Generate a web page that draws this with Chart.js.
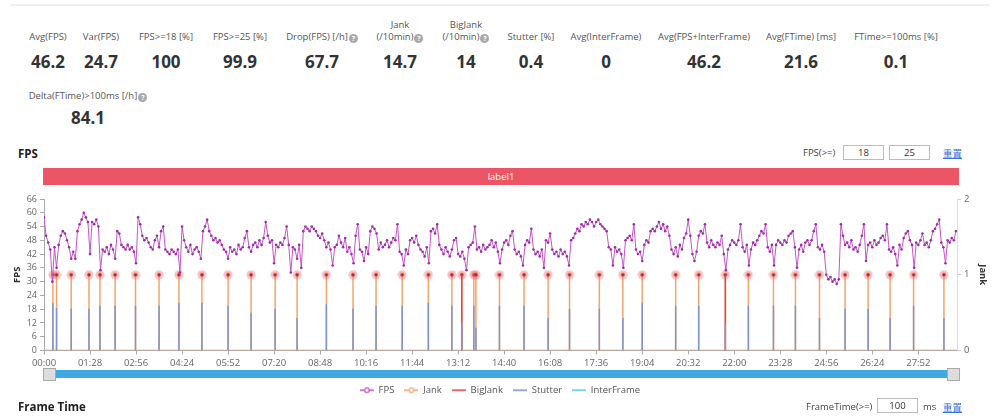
<!DOCTYPE html>
<html>
<head>
<meta charset="utf-8">
<script src="https://cdn.jsdelivr.net/npm/chart.js@4.4.1/dist/chart.umd.min.js"></script>
<style>
  body { margin: 0; width: 1000px; height: 419px; background: #fff; overflow: hidden;
         font-family: "Open Sans", "Noto Sans CJK SC", sans-serif; position: relative; }
  .topline { position: absolute; left: 10px; top: 4px; width: 980px; height: 2px; background: #f0f0f0; }
  .stat-label { position: absolute; width: 140px; text-align: center; font-size: 9.5px; color: #555;
                line-height: 12px; white-space: pre-line; }
  .stat-value { position: absolute; width: 140px; text-align: center; font-size: 17px; font-weight: bold;
                color: #333; line-height: 20px; }
  .help { display: inline-block; width: 9px; height: 9px; border-radius: 50%; background: #a8a8a8; color: #fff;
          font-size: 7px; line-height: 9px; text-align: center; font-weight: bold; vertical-align: -1px; margin-left: 1px; }
  .title { position: absolute; left: 18px; font-size: 11.5px; font-weight: bold; color: #222; }
  .band { position: absolute; left: 43px; top: 168px; width: 916px; height: 17px; background: #ec5565;
          color: #fff; font-size: 9.5px; text-align: center; line-height: 17px; }
  .ctl { position: absolute; font-size: 9.5px; color: #444; }
  .box { position: absolute; height: 13px; border: 1px solid #bbb; font-size: 9.5px; color: #333;
         text-align: center; line-height: 13px; }
  .link { position: absolute; font-size: 9.5px; color: #3b6fd8; text-decoration: underline; }
  #chartWrap { position: absolute; left: 0; top: 190px; width: 1000px; height: 215px; }
  .slider { position: absolute; left: 44px; top: 370px; width: 913px; height: 8px; background: #3fa9e6; }
  .handle { position: absolute; top: 368px; width: 11px; height: 11px; background: #ddd; border: 1px solid #aaa; }
</style>
</head>
<body>
<div class="topline"></div>
<div id="stats"></div>

<div class="title" style="top:146px">FPS</div>
<div class="ctl" style="left:803px;top:146px">FPS(&gt;=)</div>
<div class="box" style="left:843px;top:145px;width:39px">18</div>
<div class="box" style="left:889px;top:145px;width:39px">25</div>
<div class="link" style="left:943px;top:146px">重置</div>
<div class="band">label1</div>

<div id="chartWrap"><canvas id="fpsChart"></canvas></div>
<div class="slider"></div>
<div class="handle" style="left:43px"></div>
<div class="handle" style="left:947px"></div>

<div class="title" style="top:399px">Frame Time</div>
<div class="ctl" style="left:806px;top:400px">FrameTime(&gt;=)</div>
<div class="box" style="left:877px;top:398px;width:39px">100</div>
<div class="ctl" style="left:923px;top:400px">ms</div>
<div class="link" style="left:943px;top:400px">重置</div>

<script>
// summary numbers
const statLabels = ['Avg(FPS)', 'Var(FPS)', 'FPS>=18 [%]', 'FPS>=25 [%]', 'Drop(FPS) [/h]', 'Jank\n(/10min)',
  'BigJank\n(/10min)', 'Stutter [%]', 'Avg(InterFrame)', 'Avg(FPS+InterFrame)', 'Avg(FTime) [ms]',
  'FTime>=100ms [%]', 'Delta(FTime)>100ms [/h]'];
const statValues = ['46.2', '24.7', '100', '99.9', '67.7', '14.7', '14', '0.4', '0', '46.2', '21.6', '0.1', '84.1'];
const statHelp = [false, false, false, false, true, true, true, false, false, false, false, false, true];

// FPS sampled every 4 s (one row = 80 s)
const FPS_STEP = 4;
const fpsValues = [
  58, 50, 47, 44, 30, 45, 36, 46, 50, 52, 51, 48, 45, 40, 43, 40, 52, 55, 57, 60,
  58, 56, 42, 56, 55, 57, 54, 35, 44, 43, 45, 42, 46, 44, 40, 52, 51, 46, 45, 44,
  46, 44, 45, 43, 38, 58, 55, 50, 48, 49, 47, 45, 44, 48, 50, 45, 52, 54, 44, 43,
  42, 44, 43, 42, 44, 34, 54, 48, 45, 43, 46, 42, 44, 45, 43, 40, 52, 54, 57, 52,
  50, 48, 49, 47, 48, 46, 44, 43, 40, 45, 43, 44, 42, 46, 44, 45, 49, 52, 45, 43,
  46, 47, 45, 48, 46, 49, 56, 50, 47, 48, 38, 46, 45, 47, 46, 49, 54, 46, 34, 45,
  44, 40, 46, 36, 52, 54, 53, 52, 54, 53, 52, 50, 49, 51, 48, 45, 47, 44, 37, 45,
  46, 50, 47, 45, 49, 43, 45, 42, 38, 50, 55, 44, 43, 39, 45, 42, 52, 54, 53, 51,
  44, 47, 45, 46, 48, 45, 47, 49, 48, 55, 43, 42, 37, 44, 42, 48, 49, 47, 50, 46,
  44, 43, 41, 45, 38, 52, 53, 51, 55, 46, 44, 42, 45, 43, 41, 44, 48, 49, 42, 41,
  43, 40, 35, 45, 46, 47, 54, 44, 45, 43, 46, 44, 45, 46, 48, 45, 47, 43, 38, 44,
  47, 48, 46, 50, 52, 44, 42, 43, 41, 37, 46, 48, 47, 53, 44, 42, 43, 41, 44, 36,
  48, 47, 51, 44, 42, 43, 41, 44, 42, 43, 41, 37, 48, 49, 51, 53, 52, 55, 54, 56,
  55, 57, 56, 54, 56, 57, 55, 54, 53, 52, 45, 44, 37, 45, 43, 44, 42, 36, 48, 49,
  50, 48, 55, 44, 42, 43, 39, 46, 48, 47, 52, 53, 52, 54, 56, 53, 55, 52, 54, 50,
  44, 42, 45, 41, 46, 44, 49, 51, 57, 50, 42, 39, 43, 50, 52, 51, 55, 47, 45, 48,
  46, 45, 47, 46, 50, 42, 35, 44, 46, 48, 47, 46, 48, 55, 45, 43, 46, 37, 44, 47,
  46, 48, 50, 52, 51, 55, 45, 43, 46, 37, 46, 48, 47, 46, 48, 47, 50, 51, 52, 45,
  36, 44, 46, 43, 47, 48, 46, 48, 52, 55, 45, 44, 46, 43, 33, 31, 32, 30, 31, 29,
  31, 55, 50, 46, 47, 45, 48, 44, 45, 43, 46, 50, 55, 39, 46, 47, 45, 48, 46, 47,
  49, 50, 48, 55, 44, 43, 45, 42, 37, 46, 44, 49, 51, 52, 48, 46, 36, 47, 46, 48,
  51, 46, 47, 45, 48, 52, 53, 55, 57, 47, 45, 38, 48, 47, 49, 48, 52
];

// jank events (seconds) and stutter height at each one
const jankTimes = [17, 24, 52, 86, 107, 136, 175, 220, 258, 302, 352, 396, 442, 484, 540, 591, 635, 685,
  735, 780, 799, 822, 826, 871, 918, 964, 1005, 1062, 1107, 1144, 1208, 1252, 1303, 1347, 1395, 1437,
  1483, 1532, 1576, 1618, 1663, 1721];
const stutterValues = [0.63, 0.56, 0.55, 0.55, 0.59, 0.59, 0.59, 0.59, 0.63, 0.63, 0.59, 0.5, 0.55, 0.43,
  0.61, 0.55, 0.59, 0.59, 0.63, 0.59, 0.39, 0.59, 0.3, 0.59, 0.59, 0.43, 0.55, 0.55, 0.43, 0.63, 0.59,
  0.59, 0.35, 0.59, 0.59, 0.59, 0.43, 0.55, 0.55, 0.43, 0.59, 0.43];
const bigJankTimes = [799, 1303];

const timeTicks = ['00:00', '01:28', '02:56', '04:24', '05:52', '07:20', '08:48', '10:16', '11:44', '13:12',
  '14:40', '16:08', '17:36', '19:04', '20:32', '22:00', '23:28', '24:56', '26:24', '27:52'];
const TICK_STEP = 88;
const END_TIME = 1746;

// summary blocks
const statCenters = [48, 101, 166, 240, 322, 400, 466, 531, 606, 704, 801, 896, 88];
const statsDiv = document.getElementById('stats');
statLabels.forEach((txt, i) => {
  const second = i === 12;
  const twoLine = txt.includes('\n');
  const lab = document.createElement('div');
  lab.className = 'stat-label';
  lab.style.left = (statCenters[i] - 70) + 'px';
  lab.style.top = (second ? 90 : (twoLine ? 19 : 31)) + 'px';
  lab.textContent = txt;
  if (statHelp[i]) {
    const h = document.createElement('span');
    h.className = 'help';
    h.textContent = '?';
    lab.appendChild(h);
  }
  statsDiv.appendChild(lab);
  const val = document.createElement('div');
  val.className = 'stat-value';
  val.style.left = (statCenters[i] - 70) + 'px';
  val.style.top = (second ? 108 : 52) + 'px';
  val.textContent = statValues[i];
  statsDiv.appendChild(val);
});

function spikes(times, heights) {
  const pts = [{ x: 0, y: 0 }];
  times.forEach((t, i) => {
    pts.push({ x: t, y: 0 }, { x: t, y: heights ? heights[i] : 1 }, { x: t, y: 0 });
  });
  pts.push({ x: END_TIME, y: 0 });
  return pts;
}

function legendIcon(color, dot) {
  const c = document.createElement('canvas');
  c.width = 14; c.height = 8;
  const g = c.getContext('2d');
  g.strokeStyle = color; g.lineWidth = 1.6;
  g.beginPath(); g.moveTo(0, 4); g.lineTo(14, 4); g.stroke();
  if (dot) {
    g.fillStyle = '#fff'; g.lineWidth = 1.2;
    g.beginPath(); g.arc(7, 4, 2.3, 0, Math.PI * 2); g.fill(); g.stroke();
  }
  return c;
}

function jankMarker() {
  const c = document.createElement('canvas');
  c.width = 10; c.height = 10;
  const g = c.getContext('2d');
  g.fillStyle = 'rgba(240,120,120,0.45)';
  g.beginPath(); g.arc(5, 5, 4.6, 0, Math.PI * 2); g.fill();
  g.fillStyle = '#b8202e';
  g.beginPath(); g.arc(5, 5, 1.8, 0, Math.PI * 2); g.fill();
  return c;
}
const marker = jankMarker();
const zeroSeg = col => ctx => (ctx.p0.parsed.y === 0 && ctx.p1.parsed.y === 0) ? col : undefined;

const colors = { fps: '#c555c8', jank: '#f3a46c', big: '#e0434b', stutter: '#7f95d0', inter: '#5cc6e8' };

new Chart(document.getElementById('fpsChart'), {
  type: 'line',
  data: {
    datasets: [
      {
        label: 'FPS', yAxisID: 'y', order: 0,
        data: fpsValues.map((v, i) => ({ x: i * FPS_STEP, y: v })),
        borderColor: colors.fps, borderWidth: 1, pointRadius: 1.3, pointBorderWidth: 0,
        pointBackgroundColor: '#9a2fa2', tension: 0
      },
      {
        label: 'Jank', yAxisID: 'y1', order: 4,
        data: spikes(jankTimes),
        borderColor: colors.jank, borderWidth: 1.5,
        segment: { borderColor: zeroSeg('transparent') },
        pointStyle: ctx => (ctx.raw && ctx.raw.y === 1) ? marker : 'circle',
        pointRadius: ctx => (ctx.raw && ctx.raw.y === 1) ? 5 : 0
      },
      {
        label: 'BigJank', yAxisID: 'y1', order: 3,
        data: spikes(bigJankTimes),
        borderColor: colors.big, borderWidth: 1.5,
        segment: { borderColor: zeroSeg('#c6a58f') },
        pointRadius: 0
      },
      {
        label: 'Stutter', yAxisID: 'y1', order: 2,
        data: spikes(jankTimes, stutterValues),
        borderColor: colors.stutter, borderWidth: 1.5,
        segment: { borderColor: zeroSeg('transparent') },
        pointRadius: 0
      },
      {
        label: 'InterFrame', yAxisID: 'y1', order: 1,
        data: [], borderColor: colors.inter, borderWidth: 1.5, pointRadius: 0
      }
    ]
  },
  options: {
    responsive: true,
    maintainAspectRatio: false,
    animation: false,
    layout: { padding: { top: 9, left: 0, right: 0, bottom: 0 } },
    plugins: {
      tooltip: { enabled: false },
      legend: {
        position: 'bottom',
        labels: {
          usePointStyle: true,
          pointStyleWidth: 14,
          padding: 10,
          color: '#555',
          font: { size: 9.5, family: '"Open Sans", sans-serif' },
          sort: (a, b) => a.datasetIndex - b.datasetIndex,
          generateLabels: chart => chart.data.datasets.map((ds, i) => ({
            text: ds.label,
            datasetIndex: i,
            pointStyle: legendIcon(ds.borderColor, i < 2),
            fillStyle: ds.borderColor,
            strokeStyle: ds.borderColor,
            lineWidth: 0,
            hidden: false,
            fontColor: '#555'
          }))
        }
      }
    },
    scales: {
      x: {
        type: 'linear', min: 0, max: END_TIME,
        afterBuildTicks: s => { s.ticks = s.ticks.filter(t => t.value % TICK_STEP === 0); },
        afterFit: s => { s.height = 25; },
        ticks: {
          stepSize: TICK_STEP, autoSkip: false, maxRotation: 0, color: '#666',
          font: { size: 9.5, family: '"Open Sans", sans-serif' },
          callback: v => timeTicks[Math.round(v / TICK_STEP)] || ''
        },
        grid: { drawOnChartArea: false, tickLength: 4, color: '#aaa' },
        border: { color: '#aaa' }
      },
      y: {
        position: 'left', min: 0, max: 66,
        afterFit: s => { s.width = 44; },
        ticks: { stepSize: 6, autoSkip: false, color: '#666', padding: 3,
                 font: { size: 9, family: '"Open Sans", sans-serif' } },
        grid: { drawOnChartArea: false, tickLength: 4, color: '#aaa' },
        border: { color: '#aaa' },
        title: { display: true, text: 'FPS', color: '#333', padding: { top: 12, bottom: 0 },
                 font: { size: 9.5, weight: 'bold', family: '"Open Sans", sans-serif' } }
      },
      y1: {
        position: 'right', min: 0, max: 2,
        afterFit: s => { s.width = 43; },
        ticks: { stepSize: 1, autoSkip: false, color: '#666', padding: 3,
                 font: { size: 9.5, family: '"Open Sans", sans-serif' } },
        grid: { drawOnChartArea: false, tickLength: 4, color: '#ccc' },
        border: { color: '#ddd' },
        title: { display: true, text: 'Jank', color: '#333', padding: { top: 12, bottom: 0 },
                 font: { size: 9.5, weight: 'bold', family: '"Open Sans", sans-serif' } }
      }
    }
  }
});
</script>
</body>
</html>
